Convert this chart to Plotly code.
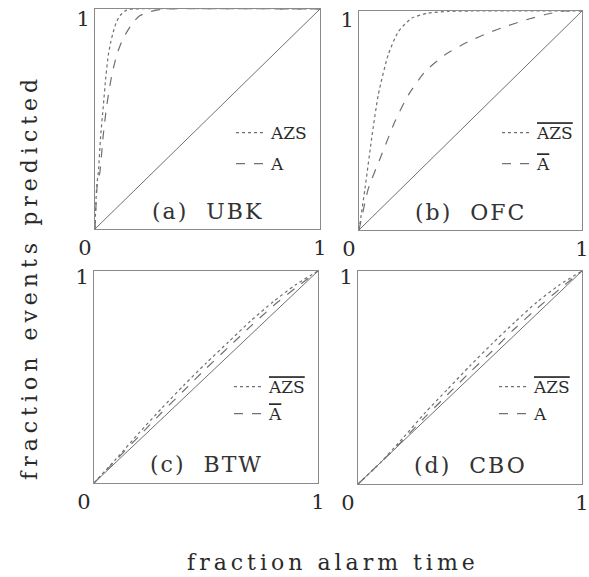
import plotly.graph_objects as go

# ---- data ----
diag_x = [0, 1]
diag_y = [0, 1]

# (a) UBK
a_azs_x = [0, 0.004, 0.008, 0.015, 0.025, 0.037, 0.048, 0.059, 0.07, 0.081, 0.095, 0.111, 0.14, 0.17, 1.0]
a_azs_y = [0, 0.12, 0.2, 0.26, 0.42, 0.56, 0.69, 0.79, 0.85, 0.895, 0.94, 0.97, 0.995, 1.0, 1.0]
a_a_x = [0, 0.005, 0.01, 0.022, 0.036, 0.052, 0.073, 0.096, 0.118, 0.141, 0.17, 0.2, 0.235, 0.274, 0.31, 1.0]
a_a_y = [0, 0.12, 0.2, 0.26, 0.42, 0.56, 0.69, 0.79, 0.85, 0.895, 0.94, 0.97, 0.985, 0.995, 1.0, 1.0]

# (b) OFC
b_azs_x = [0, 0.01, 0.027, 0.057, 0.087, 0.131, 0.176, 0.236, 0.31, 0.4, 0.5, 1.0]
b_azs_y = [0, 0.07, 0.19, 0.42, 0.62, 0.80, 0.905, 0.967, 0.99, 0.998, 1.0, 1.0]
b_a_x = [0, 0.015, 0.042, 0.10, 0.161, 0.221, 0.296, 0.386, 0.49, 0.58, 0.66, 0.75, 0.84, 0.92, 1.0]
b_a_y = [0, 0.07, 0.19, 0.34, 0.495, 0.616, 0.723, 0.80, 0.86, 0.90, 0.93, 0.96, 0.985, 1.0, 1.0]

# (c) BTW
c_x = [0, 0.1, 0.2, 0.3, 0.4, 0.5, 0.6, 0.7, 0.8, 0.9, 1.0]
c_azs_y = [0, 0.115, 0.235, 0.35, 0.46, 0.565, 0.665, 0.765, 0.855, 0.935, 1.0]
c_a_y = [0, 0.11, 0.22, 0.33, 0.435, 0.54, 0.64, 0.74, 0.835, 0.92, 1.0]

# (d) CBO
d_x = [0, 0.1, 0.2, 0.3, 0.4, 0.5, 0.6, 0.7, 0.8, 0.9, 1.0]
d_azs_y = [0, 0.1, 0.215, 0.335, 0.445, 0.555, 0.66, 0.76, 0.855, 0.935, 1.0]
d_a_y = [0, 0.1, 0.205, 0.315, 0.42, 0.525, 0.625, 0.73, 0.825, 0.915, 1.0]

x_tick_vals = [0, 1]
x_tick_text = ["0\u00a0\u00a0\u00a0", "1"]
y_tick_vals = [1]
y_tick_text = ["1"]

panel_labels = ["(a)  UBK", "(b)  OFC", "(c)  BTW", "(d)  CBO"]
OL = "<span style='text-decoration:overline'>{}</span>"
legend_azs = ["AZS", OL.format("AZS"), OL.format("AZS"), OL.format("AZS")]
legend_a = ["A", OL.format("A"), OL.format("A"), "A"]

curves = [
    (a_azs_x, a_azs_y, a_a_x, a_a_y),
    (b_azs_x, b_azs_y, b_a_x, b_a_y),
    (c_x, c_azs_y, c_x, c_a_y),
    (d_x, d_azs_y, d_x, d_a_y),
]

W, H = 589, 577
FONT = "DejaVu Serif"
GRAY = "#8a8a8a"
LINEC = "#707070"
TXT = "#2a2a2a"

# panel pixel boxes: left, right, top, bottom
boxes = [(95, 320, 9, 229), (359, 582, 11, 230), (94, 318, 271, 483), (358, 582, 271, 484)]
legend_pos = [(231, 115, 6), (497, 115, 6), (229, 369, 2), (494, 369, 2)]
label_y = [0.078, 0.078, 0.089, 0.089]
ytick_shift = [10, 9, 6, 6]

fig = go.Figure()
for i, (xs1, ys1, xs2, ys2) in enumerate(curves):
    n = "" if i == 0 else str(i + 1)
    xa, ya = "x" + n, "y" + n
    lg = "legend" + n
    fig.add_trace(go.Scatter(x=diag_x, y=diag_y, xaxis=xa, yaxis=ya, mode="lines",
                             line=dict(color=LINEC, width=1), showlegend=False))
    fig.add_trace(go.Scatter(x=xs1, y=ys1, xaxis=xa, yaxis=ya, mode="lines",
                             line=dict(color=LINEC, width=1.2, dash="dot", shape="spline", smoothing=0.6),
                             name=legend_azs[i], legend=lg, legendgroup="g1" + n))
    fig.add_trace(go.Scatter(x=xs2, y=ys2, xaxis=xa, yaxis=ya, mode="lines",
                             line=dict(color=LINEC, width=1.2, dash="dash", shape="spline", smoothing=0.6),
                             name=legend_a[i], legend=lg, legendgroup="g2" + n))

layout = dict(width=W, height=H, margin=dict(l=0, r=0, t=0, b=0, autoexpand=False),
              paper_bgcolor="white", plot_bgcolor="white",
              font=dict(family=FONT, color=TXT))
annotations = []
for i, (l, r, t, b) in enumerate(boxes):
    n = "" if i == 0 else str(i + 1)
    layout["xaxis" + n] = dict(domain=[l / W, r / W], range=[0, 1], anchor="y" + n,
                               tickvals=x_tick_vals, ticktext=x_tick_text, ticks="",
                               showgrid=False, zeroline=False, showline=True, mirror=True,
                               linecolor=GRAY, linewidth=1, automargin=False,
                               ticklabeloverflow="allow",
                               tickfont=dict(size=21, family=FONT, color=TXT))
    layout["yaxis" + n] = dict(domain=[1 - b / H, 1 - t / H], range=[0, 1], anchor="x" + n,
                               tickvals=y_tick_vals, ticktext=y_tick_text, ticks="",
                               showgrid=False, zeroline=False, showline=True, mirror=True,
                               linecolor=GRAY, linewidth=1, automargin=False,
                               ticklabeloverflow="allow", ticklabelshift=ytick_shift[i],
                               tickfont=dict(size=21, family=FONT, color=TXT))
    lx, ly, gap = legend_pos[i]
    layout["legend" + n] = dict(x=lx / W, y=1 - ly / H, xanchor="left", yanchor="top",
                                bgcolor="rgba(0,0,0,0)", itemwidth=30, tracegroupgap=gap,
                                font=dict(size=17, family=FONT, color=TXT))
    annotations.append(dict(xref="x" + n + " domain", yref="y" + n + " domain",
                            x=0.5, y=label_y[i], xanchor="center", yanchor="middle",
                            text="<span style='letter-spacing:2px'>" + panel_labels[i] + "</span>",
                            showarrow=False, font=dict(size=22, family=FONT, color="#333")))

annotations.append(dict(xref="paper", yref="paper", x=333 / W, y=1 - 562 / H,
                        xanchor="center", yanchor="middle",
                        text="<span style='letter-spacing:4px'>fraction alarm time</span>",
                        showarrow=False, font=dict(size=22, family=FONT, color=TXT)))
annotations.append(dict(xref="paper", yref="paper", x=30 / W, y=1 - 277 / H,
                        xanchor="center", yanchor="middle",
                        text="<span style='letter-spacing:5px'>fraction events predicted</span>",
                        textangle=-90, showarrow=False, font=dict(size=22, family=FONT, color=TXT)))
layout["annotations"] = annotations
fig.update_layout(**layout)
fig.write_html("out.html")
